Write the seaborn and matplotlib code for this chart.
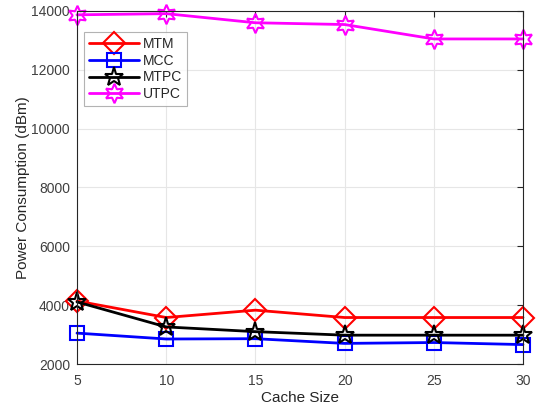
import matplotlib
matplotlib.use("Agg")
import matplotlib.pyplot as plt
import seaborn as sns
import pandas as pd

cache_size = [5, 10, 15, 20, 25, 30]
mtm = [4140, 3580, 3830, 3580, 3580, 3580]
mcc = [3050, 2850, 2860, 2700, 2730, 2660]
mtpc = [4110, 3260, 3100, 2980, 2980, 2980]
utpc = [13870, 13910, 13600, 13540, 13050, 13050]

series = [
    ("MTM", mtm, "red", "D", 11),
    ("MCC", mcc, "blue", "s", 10),
    ("MTPC", mtpc, "black", "*", 14),
    ("UTPC", utpc, "magenta", (6, 1, 0), 14),
]

sns.set_theme(style="whitegrid")
plt.rcParams['font.family'] = ['Liberation Sans', 'DejaVu Sans']

fig = plt.figure(figsize=(5.36, 4.09), dpi=100)
ax = fig.add_axes([77/536, 1-364/409, (523-77)/536, (364-11)/409])

for name, vals, col, mk, ms in series:
    df = pd.DataFrame({"x": cache_size, "y": vals})
    sns.lineplot(data=df, x="x", y="y", ax=ax, color=col, marker=mk,
                 markersize=ms, markerfacecolor="none", markeredgecolor=col,
                 markeredgewidth=1.5, linewidth=2, label=name, clip_on=False)

ax.set_xlim(5, 30)
ax.set_ylim(2000, 14000)
ax.set_xticks(cache_size)
ax.set_yticks(range(2000, 14001, 2000))
ax.set_xlabel("Cache Size", fontsize=11, color="#262626", labelpad=2)
ax.set_ylabel("Power Consumption (dBm)", fontsize=11, color="#262626", labelpad=1)
ax.tick_params(axis="both", labelsize=10, colors="#262626", labelcolor="#404040",
               direction="in", length=4, width=0.8, top=True, right=True)
ax.tick_params(axis="x", pad=7)
ax.tick_params(axis="y", pad=5)
ax.set_facecolor("white")
ax.grid(True, color="#e6e6e6", linewidth=0.8)
for s in ax.spines.values():
    s.set_color("#262626")
    s.set_linewidth(0.8)

leg = ax.legend(loc="upper left", bbox_to_anchor=(0.0, 0.96), fontsize=10,
                frameon=True, fancybox=False, edgecolor="#a0a0a0",
                handlelength=3.6, borderpad=0.35, labelspacing=0.2,
                handletextpad=0.3)
leg.get_frame().set_linewidth(0.8)

fig.savefig("out.png", dpi=100)
